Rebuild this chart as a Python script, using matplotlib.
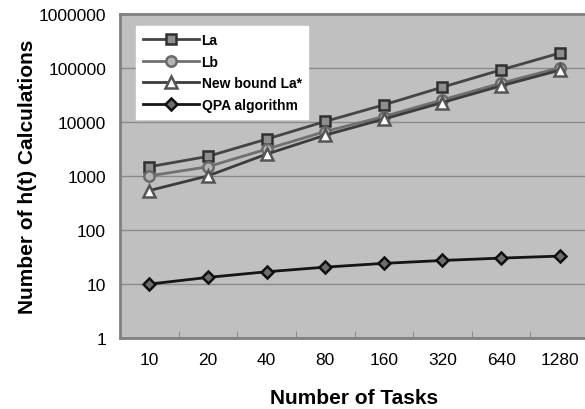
import matplotlib
matplotlib.use("Agg")
import matplotlib.pyplot as plt
from matplotlib.ticker import FixedLocator, FuncFormatter, NullFormatter

plt.rcParams['font.family'] = ['Liberation Sans', 'DejaVu Sans']

tasks = ['10', '20', '40', '80', '160', '320', '640', '1280']
la = [1490, 2320, 4840, 10300, 20900, 44500, 93000, 190000]
lb = [1010, 1490, 3160, 6700, 12700, 25900, 52700, 102000]
la_star = [540, 1010, 2550, 5740, 11400, 23100, 47100, 91800]
qpa = [10, 13.3, 16.9, 20.6, 24.2, 27.4, 30.3, 33]
y_ticks = [1, 10, 100, 1000, 10000, 100000, 1000000]

fig = plt.figure(figsize=(5.85, 4.1), dpi=100)
ax = fig.add_axes([0.205, 0.173, 0.802, 0.790])
ax.set_facecolor('#c0c0c0')

x = range(len(tasks))
ax.plot(x, la, color='#454545', lw=2, marker='s', ms=7, mfc='#8e8e8e', mec='#303030', mew=1.8, label='La', zorder=3)
ax.plot(x, lb, color='#707070', lw=2, marker='o', ms=7.5, mfc='#b4b4b4', mec='#6a6a6a', mew=1.8, label='Lb', zorder=3)
ax.plot(x, la_star, color='#3c3c3c', lw=2, marker='^', ms=8, mfc='white', mec='#555555', mew=1.8, label='New bound La*', zorder=4)
ax.plot(x, qpa, color='#151515', lw=2, marker='D', ms=6, mfc='#6e6e6e', mec='#101010', mew=1.8, label='QPA algorithm', zorder=3)

ax.set_yscale('log')
ax.set_ylim(1, 1000000)
ax.yaxis.set_major_locator(FixedLocator(y_ticks))
ax.yaxis.set_major_formatter(FuncFormatter(lambda v, p: '%d' % v))
ax.yaxis.set_minor_formatter(NullFormatter())
ax.tick_params(axis='y', which='minor', length=0)
ax.tick_params(axis='y', which='major', length=0, pad=10, labelsize=12.5)
ax.grid(axis='y', which='major', color='#8a8a8a', lw=1)

ax.set_xlim(-0.5, len(tasks) - 0.5)
ax.set_xticks(list(x))
ax.set_xticklabels(tasks)
ax.set_xticks([i + 0.5 for i in range(len(tasks) - 1)], minor=True)
ax.tick_params(axis='x', which='major', length=0, pad=10, labelsize=12.5)
ax.tick_params(axis='x', which='minor', direction='in', length=5, color='#808080')
ax.set_axisbelow(True)

for s in ax.spines.values():
    s.set_color('#808080')
    s.set_linewidth(2)

ax.set_xlabel('Number of Tasks', fontsize=15, fontweight='bold', labelpad=15)
ax.set_ylabel('Number of h(t) Calculations', fontsize=15, fontweight='bold', labelpad=1)

leg = ax.legend(loc='upper left', bbox_to_anchor=(0.02, 0.985), fancybox=False,
                frameon=True, framealpha=1, edgecolor='white', facecolor='white',
                prop={'weight': 'bold', 'size': 10}, handlelength=4.0,
                handletextpad=0.2, labelspacing=0.55, borderpad=0.5)

fig.savefig('out.png', dpi=100)
